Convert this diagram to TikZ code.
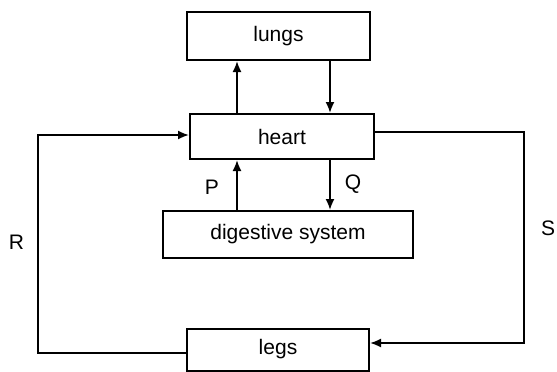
\documentclass[tikz,border=0pt]{standalone}
\usepackage{fontspec}
\setmainfont{Liberation Sans}
\usetikzlibrary{arrows.meta}
\begin{document}
\begin{tikzpicture}[x=1pt,y=-1pt,
  organ/.style={draw,line width=2pt,inner sep=0pt,font=\fontsize{21}{25}\selectfont},
  flow/.style={line width=1.8pt,-{Latex[length=11pt,width=9pt]}},
  lab/.style={font=\fontsize{21}{25}\selectfont,inner sep=0pt}]
\useasboundingbox (0,0) rectangle (557,372);
\node[organ,minimum width=183pt,minimum height=48pt] (lungs) at (278.5,36) {lungs};
\node[organ,minimum width=184pt,minimum height=45pt] (heart) at (282,136.5) {heart};
\node[organ,minimum width=250pt,minimum height=47pt] (dig) at (288,234.5) {digestive system};
\node[organ,minimum width=182pt,minimum height=42pt] (legs) at (278,349.5) {legs};
\coordinate (xa) at (237,0);
\coordinate (xb) at (330,0);
\draw[flow] (heart.north -| xa) -- (lungs.south -| xa);
\draw[flow] (lungs.south -| xb) -- (heart.north -| xb);
\draw[flow] (dig.north -| xa) -- (heart.south -| xa);
\draw[flow] (heart.south -| xb) -- (dig.north -| xb);
\coordinate (r1) at (38,353);
\coordinate (r2) at (38,135);
\draw[flow] (legs.west |- r1) -- (r1) -- (r2) -- (heart.west |- r2);
\coordinate (s1) at (524,132);
\coordinate (s2) at (524,343);
\draw[flow] (heart.east |- s1) -- (s1) -- (s2) -- (legs.east |- s2);
\node[lab] (P) at (212,187) {P};
\node[lab] (Q) at (353,184) {Q};
\node[lab] (R) at (16.5,242) {R};
\node[lab] (S) at (548,228) {S};
\end{tikzpicture}
\end{document}
